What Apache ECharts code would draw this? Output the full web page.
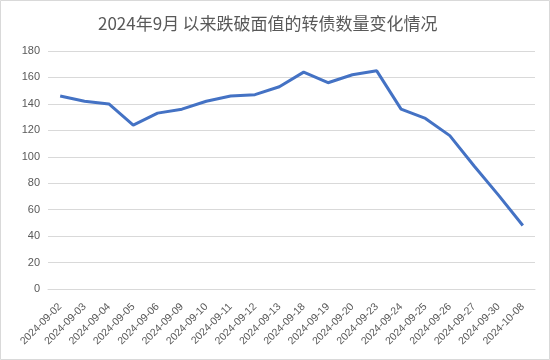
<!DOCTYPE html>
<html><head><meta charset="utf-8">
<script src="https://cdn.jsdelivr.net/npm/echarts@6/dist/echarts.min.js"></script>
<style>html,body{margin:0;padding:0;background:#fff}#c{width:550px;height:360px}</style>
</head><body><div id="c"></div>
<script>
const titleText = '2024年9月\u2009以来跌破面值的转债数量变化情况';
const categories = ['2024-09-02','2024-09-03','2024-09-04','2024-09-05','2024-09-06','2024-09-09','2024-09-10','2024-09-11','2024-09-12','2024-09-13','2024-09-18','2024-09-19','2024-09-20','2024-09-23','2024-09-24','2024-09-25','2024-09-26','2024-09-27','2024-09-30','2024-10-08'];
const counts = [146,142,140,124,133,136,142,146,147,153,164,156,162,165,136,129,116,93,71,48];
const yMin = 0, yMax = 180, yStep = 20;

const chart = echarts.init(document.getElementById('c'), null, {renderer:'canvas'});
chart.setOption({
  animation:false,
  backgroundColor:'#fff',
  title:{text:titleText,left:93,top:10,textStyle:{fontFamily:'"Noto Sans CJK SC","Noto Sans",sans-serif',fontSize:17,fontWeight:'normal',color:'#595959'}},
  graphic:[{type:'rect',shape:{x:0.5,y:0.5,width:549,height:359},style:{fill:null,stroke:'#d9d9d9',lineWidth:1},silent:true}],
  grid:{left:48,right:15,top:51,bottom:71,containLabel:false},
  xAxis:{type:'category',data:categories,boundaryGap:true,
    axisLine:{lineStyle:{color:'#d9d9d9',width:1}},axisTick:{show:false},
    axisLabel:{rotate:45,interval:0,fontSize:10.5,color:'#595959',margin:16,fontFamily:'"Liberation Sans","DejaVu Sans",sans-serif'}},
  yAxis:{type:'value',min:yMin,max:yMax,interval:yStep,
    axisLine:{show:false},axisTick:{show:false},
    splitLine:{lineStyle:{color:'#d9d9d9',width:1}},
    axisLabel:{fontSize:11,color:'#595959',margin:8,fontFamily:'"Liberation Sans","DejaVu Sans",sans-serif'}},
  series:[{type:'line',data:counts,symbol:'none',lineStyle:{color:'#4472C4',width:3},itemStyle:{color:'#4472C4'}}]
});
</script></body></html>
